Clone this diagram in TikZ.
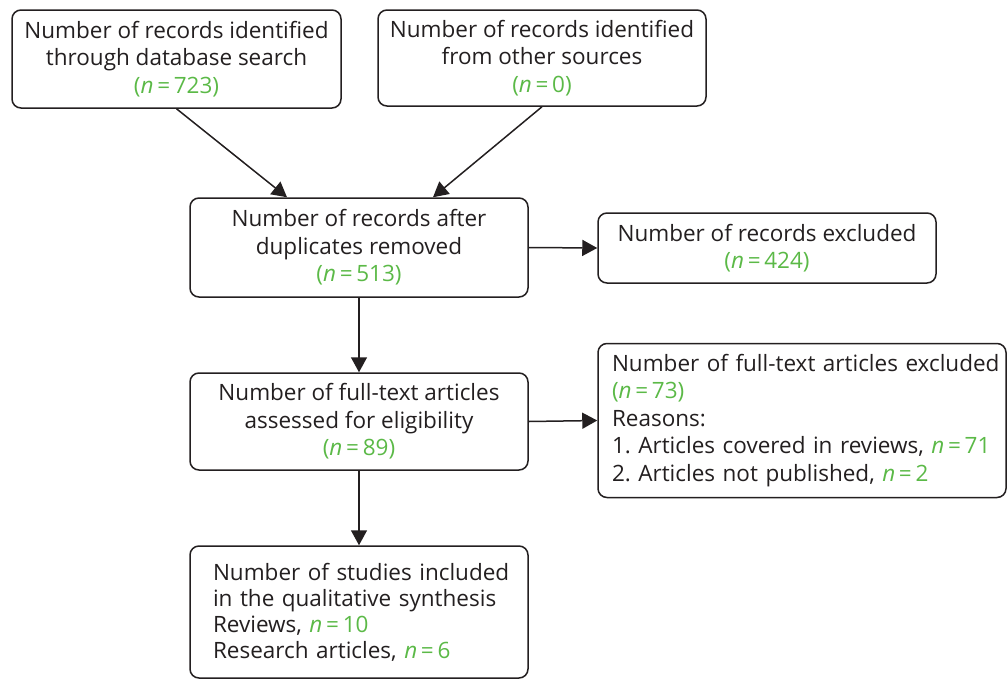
\documentclass[tikz,border=0pt]{standalone}
\usepackage{fontspec}
\setmainfont{Open Sans}
\usetikzlibrary{arrows.meta,calc}
\definecolor{ink}{HTML}{231F20}
\definecolor{ngreen}{HTML}{5BB947}
\newcommand{\nval}[1]{\textcolor{ngreen}{\textit{n}\,=\,#1}}
\newcommand{\npar}[1]{\textcolor{ngreen}{(\textit{n}\,=\,#1)}}
\frenchspacing
\hyphenpenalty=10000
\exhyphenpenalty=10000
\begin{document}
\begin{tikzpicture}[x=1pt,y=-1pt,
  box/.style={draw=ink, line width=1.5pt, rounded corners=9pt, inner sep=0pt,
    text=ink, font=\fontsize{22.5}{27.5}\selectfont},
  listbox/.style={box, align=left, inner xsep=0pt},
  flow/.style={draw=ink, line width=1.5pt, -{Triangle[length=15pt,width=16pt]}}]
\useasboundingbox (0,0) rectangle (1008,680);
% identification
\node[box, minimum width=329pt, minimum height=98pt, align=center] (a) at (176.5,59)
  {Number of records identified\\through database search\\\npar{723}};
\node[box, minimum width=328pt, minimum height=96pt, align=center] (b) at (542,58)
  {Number of records identified\\from other sources\\\npar{0}};
% screening
\node[box, minimum width=338pt, minimum height=99pt, align=center] (c) at (359,247.5)
  {Number of records after\\duplicates removed\\\npar{513}};
\node[box, minimum width=338pt, minimum height=70pt, align=center] (d) at (767,248)
  {Number of records excluded\\\npar{424}};
% eligibility
\node[box, minimum width=338pt, minimum height=97pt, align=center] (e) at (359,421.5)
  {Number of full-text articles\\assessed for eligibility\\\npar{89}};
\node[listbox, text width=408pt, minimum height=154pt] (f) at (802,420.5)
  {\leftskip=14pt Number of full-text articles excluded\\\npar{73}\\Reasons:\\1. Articles covered in reviews, \nval{71}\\2. Articles not published, \nval{2}\par};
% included
\node[listbox, text width=338pt, minimum height=132pt,
  font=\fontsize{22.5}{26}\selectfont] (g) at (359,612)
  {\leftskip=23pt Number of studies included\\in the qualitative synthesis\\Reviews, \nval{10}\\Research articles, \nval{6}\par};
% connectors
\draw[flow] (a.south) -- ($(c.north)+(-72,0)$);
\draw[flow] (b.south) -- ($(c.north)+(74,0)$);
\draw[flow] (c.east) -- (d.west);
\draw[flow] (c.south) -- (e.north);
\draw[flow] (e.east) -- (f.west);
\draw[flow] (e.south) -- (g.north);
\end{tikzpicture}
\end{document}
